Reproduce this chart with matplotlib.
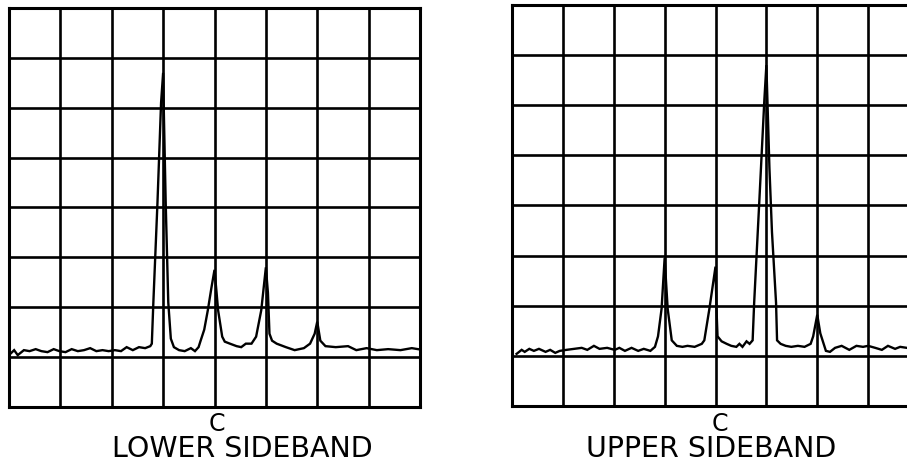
import matplotlib
matplotlib.use("Agg")
import matplotlib.pyplot as plt

# ---- data (graticule units: 8 x 8 divisions) ----
n_div = 8

lower_x = [0.02, 0.10, 0.17, 0.29, 0.40, 0.52, 0.63, 0.75, 0.87, 0.98,
           1.10, 1.22, 1.34, 1.46, 1.58, 1.70, 1.82, 1.94, 2.06, 2.18,
           2.29, 2.41, 2.53, 2.65, 2.75, 2.78,
           2.81, 2.89, 2.96, 3.00, 3.01, 3.05, 3.10, 3.15, 3.21,
           3.31, 3.42, 3.54, 3.62, 3.69, 3.73, 3.80, 3.87, 3.94, 4.00,
           4.04, 4.07, 4.15, 4.20, 4.30, 4.43, 4.52, 4.61, 4.72, 4.81, 4.91, 5.00,
           5.04, 5.07, 5.12, 5.21, 5.39, 5.56, 5.74, 5.86, 5.95, 6.00,
           6.06, 6.16, 6.36, 6.60, 6.76, 6.96, 7.16, 7.38, 7.62, 7.84, 7.96]
lower_y = [1.06, 1.14, 1.04, 1.14, 1.12, 1.16, 1.12, 1.10, 1.16, 1.12,
           1.10, 1.16, 1.12, 1.14, 1.18, 1.12, 1.14, 1.12, 1.14, 1.12,
           1.20, 1.14, 1.20, 1.18, 1.22, 1.27,
           2.10, 4.10, 6.10, 6.70, 6.10, 4.10, 2.10, 1.37, 1.20,
           1.14, 1.12, 1.18, 1.12, 1.20, 1.33, 1.55, 1.94, 2.39, 2.75,
           2.30, 1.94, 1.41, 1.31, 1.27, 1.22, 1.20, 1.27, 1.27, 1.41, 1.94, 2.80,
           2.29, 1.47, 1.33, 1.27, 1.20, 1.14, 1.18, 1.27, 1.47, 1.71,
           1.33, 1.22, 1.20, 1.22, 1.14, 1.18, 1.14, 1.16, 1.14, 1.18, 1.16]

upper_x = [0.09, 0.19, 0.25, 0.34, 0.43, 0.53, 0.66, 0.75, 0.85, 0.94,
           1.07, 1.22, 1.37, 1.48, 1.61, 1.72, 1.87,
           2.02, 2.11, 2.22, 2.35, 2.48, 2.59, 2.72, 2.81, 2.87, 2.94, 3.00,
           3.06, 3.14, 3.24, 3.35, 3.45, 3.59, 3.73, 3.78, 3.88, 4.00,
           4.02, 4.04, 4.12, 4.22, 4.31, 4.41, 4.47, 4.53, 4.61, 4.67, 4.73,
           4.76, 4.86, 4.96, 5.00, 5.06, 5.11, 5.19, 5.21,
           5.28, 5.38, 5.49, 5.62, 5.75, 5.87, 5.92, 6.00,
           6.06, 6.17, 6.25, 6.35, 6.48, 6.63, 6.77, 6.90, 7.00,
           7.14, 7.27, 7.39, 7.53, 7.63, 7.76, 7.90, 8.00]
upper_y = [1.04, 1.12, 1.08, 1.14, 1.10, 1.14, 1.08, 1.12, 1.06, 1.10,
           1.12, 1.14, 1.16, 1.12, 1.20, 1.14, 1.16,
           1.12, 1.16, 1.10, 1.16, 1.10, 1.14, 1.10, 1.18, 1.39, 1.94, 2.95,
           1.94, 1.31, 1.20, 1.18, 1.20, 1.18, 1.24, 1.31, 1.94, 2.78,
           1.92, 1.39, 1.29, 1.24, 1.20, 1.18, 1.24, 1.18, 1.29, 1.24, 1.31,
           2.06, 4.06, 6.10, 6.80, 4.75, 3.47, 2.06, 1.31,
           1.24, 1.20, 1.18, 1.20, 1.18, 1.24, 1.39, 1.82,
           1.45, 1.10, 1.08, 1.16, 1.20, 1.12, 1.20, 1.18, 1.20,
           1.16, 1.12, 1.20, 1.14, 1.18, 1.16, 1.14, 1.16]

marker_label = "C"
titles = ["LOWER SIDEBAND", "UPPER SIDEBAND"]

# ---- figure ----
W, H = 907, 465
fig = plt.figure(figsize=(W / 100, H / 100), dpi=100)
fig.patch.set_facecolor("white")

panels = [
    dict(rect=[9 / W, 58 / H, 411 / W, 399 / H], x=lower_x, y=lower_y,
         c_pos=(217, 424), t_pos=(242, 449)),
    dict(rect=[512 / W, 59 / H, 407 / W, 401 / H], x=upper_x, y=upper_y,
         c_pos=(720, 424), t_pos=(711, 449)),
]

for p, title in zip(panels, titles):
    ax = fig.add_axes(p["rect"])
    ax.set_xlim(0, n_div)
    ax.set_ylim(0, n_div)
    ax.set_xticks(range(n_div + 1))
    ax.set_yticks(range(n_div + 1))
    ax.tick_params(length=0, labelbottom=False, labelleft=False)
    ax.grid(True, color="black", linewidth=1.9)
    ax.set_axisbelow(True)
    for s in ax.spines.values():
        s.set_linewidth(2.2)
        s.set_color("black")
    ax.plot(p["x"], p["y"], color="black", linewidth=1.7,
            solid_joinstyle="miter", clip_on=True)
    cx, cy = p["c_pos"]
    fig.text(cx / W, 1 - cy / H, marker_label, ha="center", va="center",
             fontsize=17, family="DejaVu Sans")
    tx, ty = p["t_pos"]
    fig.text(tx / W, 1 - ty / H, title, ha="center", va="center",
             fontsize=20.5, family="DejaVu Sans")

fig.savefig("out.png", dpi=100, facecolor="white")
